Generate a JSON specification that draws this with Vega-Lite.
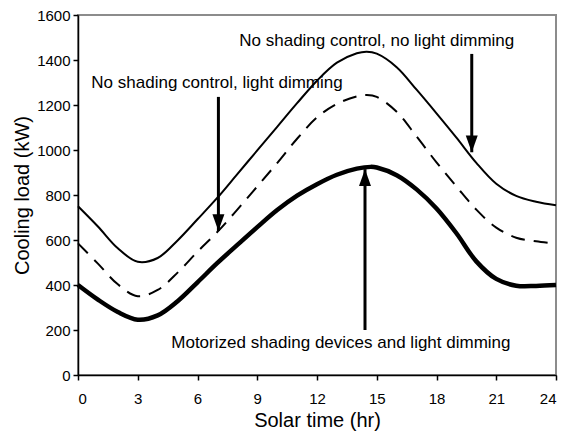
{
  "$schema": "https://vega.github.io/schema/vega-lite/v6.json",
  "width": 478,
  "height": 360,
  "autosize": "none",
  "padding": {"left": 78, "top": 15, "right": 13, "bottom": 59},
  "background": "white",
  "config": {
    "view": {"stroke": "#8c8c8c", "strokeWidth": 2},
    "font": "Liberation Sans",
    "axis": {
      "grid": false,
      "domainColor": "black",
      "domainWidth": 1.5,
      "tickColor": "black",
      "tickWidth": 1.5,
      "tickSize": 5,
      "labelFont": "Liberation Sans",
      "labelFontSize": 15,
      "labelColor": "black",
      "titleFont": "Liberation Sans",
      "titleFontSize": 20,
      "titleFontWeight": "normal",
      "titleColor": "black"
    }
  },
  "datasets": {
    "curves": [
      {"t": 0, "v": 750, "s": "No shading control, no light dimming"},
      {"t": 1, "v": 660, "s": "No shading control, no light dimming"},
      {"t": 2, "v": 563, "s": "No shading control, no light dimming"},
      {"t": 3, "v": 503, "s": "No shading control, no light dimming"},
      {"t": 4, "v": 520, "s": "No shading control, no light dimming"},
      {"t": 5, "v": 598, "s": "No shading control, no light dimming"},
      {"t": 6, "v": 692, "s": "No shading control, no light dimming"},
      {"t": 7, "v": 788, "s": "No shading control, no light dimming"},
      {"t": 8, "v": 893, "s": "No shading control, no light dimming"},
      {"t": 9, "v": 998, "s": "No shading control, no light dimming"},
      {"t": 10, "v": 1103, "s": "No shading control, no light dimming"},
      {"t": 11, "v": 1208, "s": "No shading control, no light dimming"},
      {"t": 12, "v": 1308, "s": "No shading control, no light dimming"},
      {"t": 13, "v": 1388, "s": "No shading control, no light dimming"},
      {"t": 14, "v": 1430, "s": "No shading control, no light dimming"},
      {"t": 14.5, "v": 1437, "s": "No shading control, no light dimming"},
      {"t": 15, "v": 1428, "s": "No shading control, no light dimming"},
      {"t": 16, "v": 1368, "s": "No shading control, no light dimming"},
      {"t": 17, "v": 1268, "s": "No shading control, no light dimming"},
      {"t": 18, "v": 1163, "s": "No shading control, no light dimming"},
      {"t": 19, "v": 1055, "s": "No shading control, no light dimming"},
      {"t": 20, "v": 943, "s": "No shading control, no light dimming"},
      {"t": 21, "v": 850, "s": "No shading control, no light dimming"},
      {"t": 22, "v": 796, "s": "No shading control, no light dimming"},
      {"t": 23, "v": 770, "s": "No shading control, no light dimming"},
      {"t": 24, "v": 754, "s": "No shading control, no light dimming"},
      {"t": 0, "v": 585, "s": "No shading control, light dimming"},
      {"t": 1, "v": 495, "s": "No shading control, light dimming"},
      {"t": 2, "v": 403, "s": "No shading control, light dimming"},
      {"t": 3, "v": 350, "s": "No shading control, light dimming"},
      {"t": 4, "v": 378, "s": "No shading control, light dimming"},
      {"t": 5, "v": 455, "s": "No shading control, light dimming"},
      {"t": 6, "v": 548, "s": "No shading control, light dimming"},
      {"t": 7, "v": 636, "s": "No shading control, light dimming"},
      {"t": 8, "v": 735, "s": "No shading control, light dimming"},
      {"t": 9, "v": 838, "s": "No shading control, light dimming"},
      {"t": 10, "v": 942, "s": "No shading control, light dimming"},
      {"t": 11, "v": 1050, "s": "No shading control, light dimming"},
      {"t": 12, "v": 1145, "s": "No shading control, light dimming"},
      {"t": 13, "v": 1205, "s": "No shading control, light dimming"},
      {"t": 14, "v": 1238, "s": "No shading control, light dimming"},
      {"t": 14.5, "v": 1244, "s": "No shading control, light dimming"},
      {"t": 15, "v": 1236, "s": "No shading control, light dimming"},
      {"t": 16, "v": 1170, "s": "No shading control, light dimming"},
      {"t": 17, "v": 1060, "s": "No shading control, light dimming"},
      {"t": 18, "v": 945, "s": "No shading control, light dimming"},
      {"t": 19, "v": 838, "s": "No shading control, light dimming"},
      {"t": 20, "v": 735, "s": "No shading control, light dimming"},
      {"t": 21, "v": 655, "s": "No shading control, light dimming"},
      {"t": 22, "v": 610, "s": "No shading control, light dimming"},
      {"t": 23, "v": 594, "s": "No shading control, light dimming"},
      {"t": 24, "v": 584, "s": "No shading control, light dimming"},
      {"t": 0, "v": 400, "s": "Motorized shading devices and light dimming"},
      {"t": 1, "v": 335, "s": "Motorized shading devices and light dimming"},
      {"t": 2, "v": 280, "s": "Motorized shading devices and light dimming"},
      {"t": 3, "v": 246, "s": "Motorized shading devices and light dimming"},
      {"t": 4, "v": 265, "s": "Motorized shading devices and light dimming"},
      {"t": 5, "v": 328, "s": "Motorized shading devices and light dimming"},
      {"t": 6, "v": 412, "s": "Motorized shading devices and light dimming"},
      {"t": 7, "v": 498, "s": "Motorized shading devices and light dimming"},
      {"t": 8, "v": 578, "s": "Motorized shading devices and light dimming"},
      {"t": 9, "v": 657, "s": "Motorized shading devices and light dimming"},
      {"t": 10, "v": 733, "s": "Motorized shading devices and light dimming"},
      {"t": 11, "v": 797, "s": "Motorized shading devices and light dimming"},
      {"t": 12, "v": 848, "s": "Motorized shading devices and light dimming"},
      {"t": 13, "v": 890, "s": "Motorized shading devices and light dimming"},
      {"t": 14, "v": 917, "s": "Motorized shading devices and light dimming"},
      {"t": 14.7, "v": 925, "s": "Motorized shading devices and light dimming"},
      {"t": 15, "v": 922, "s": "Motorized shading devices and light dimming"},
      {"t": 16, "v": 888, "s": "Motorized shading devices and light dimming"},
      {"t": 17, "v": 825, "s": "Motorized shading devices and light dimming"},
      {"t": 18, "v": 740, "s": "Motorized shading devices and light dimming"},
      {"t": 19, "v": 630, "s": "Motorized shading devices and light dimming"},
      {"t": 20, "v": 505, "s": "Motorized shading devices and light dimming"},
      {"t": 21, "v": 427, "s": "Motorized shading devices and light dimming"},
      {"t": 22, "v": 397, "s": "Motorized shading devices and light dimming"},
      {"t": 23, "v": 396, "s": "Motorized shading devices and light dimming"},
      {"t": 24, "v": 400, "s": "Motorized shading devices and light dimming"}
    ],
    "labels": [
      {"x": 15.0, "y": 1484, "label": "No shading control, no light dimming"},
      {"x": 6.98, "y": 1298, "label": "No shading control, light dimming"},
      {"x": 13.2, "y": 142, "label": "Motorized shading devices and light dimming"}
    ],
    "downArrows": [
      {"x": 19.77, "y": 1427, "y2": 990},
      {"x": 7.05, "y": 1236, "y2": 640}
    ],
    "upArrows": [
      {"x": 14.41, "y": 200, "y2": 915}
    ]
  },
  "encoding": {
    "x": {
      "field": "t", "type": "quantitative",
      "scale": {"domain": [0, 24], "nice": false},
      "axis": {"values": [0, 3, 6, 9, 12, 15, 18, 21, 24], "title": "Solar time (hr)", "labelPadding": 11, "titlePadding": 4}
    },
    "y": {
      "field": "v", "type": "quantitative",
      "scale": {"domain": [0, 1600], "nice": false},
      "axis": {"values": [0, 200, 400, 600, 800, 1000, 1200, 1400, 1600], "format": "d", "title": "Cooling load (kW)", "labelPadding": 3, "titlePadding": 4}
    }
  },
  "layer": [
    {
      "data": {"name": "curves"},
      "transform": [{"filter": "datum.s === 'No shading control, no light dimming'"}],
      "mark": {"type": "line", "color": "black", "strokeWidth": 2, "interpolate": "catmull-rom"}
    },
    {
      "data": {"name": "curves"},
      "transform": [{"filter": "datum.s === 'No shading control, light dimming'"}],
      "mark": {"type": "line", "color": "black", "strokeWidth": 2, "strokeDash": [14, 9], "interpolate": "catmull-rom"}
    },
    {
      "data": {"name": "curves"},
      "transform": [{"filter": "datum.s === 'Motorized shading devices and light dimming'"}],
      "mark": {"type": "line", "color": "black", "strokeWidth": 4.5, "interpolate": "catmull-rom"}
    },
    {
      "data": {"name": "downArrows"},
      "mark": {"type": "rule", "color": "black", "strokeWidth": 3},
      "encoding": {
        "x": {"field": "x", "type": "quantitative"},
        "y": {"field": "y", "type": "quantitative"},
        "y2": {"field": "y2"}
      }
    },
    {
      "data": {"name": "downArrows"},
      "mark": {"type": "point", "shape": "M-1,-2.8L1,-2.8L0,0Z", "size": 144, "filled": true, "color": "black", "opacity": 1},
      "encoding": {
        "x": {"field": "x", "type": "quantitative"},
        "y": {"field": "y2", "type": "quantitative"}
      }
    },
    {
      "data": {"name": "upArrows"},
      "mark": {"type": "rule", "color": "black", "strokeWidth": 3},
      "encoding": {
        "x": {"field": "x", "type": "quantitative"},
        "y": {"field": "y", "type": "quantitative"},
        "y2": {"field": "y2"}
      }
    },
    {
      "data": {"name": "upArrows"},
      "mark": {"type": "point", "shape": "M-1,2.8L1,2.8L0,0Z", "size": 144, "filled": true, "color": "black", "opacity": 1},
      "encoding": {
        "x": {"field": "x", "type": "quantitative"},
        "y": {"field": "y2", "type": "quantitative"}
      }
    },
    {
      "data": {"name": "labels"},
      "mark": {"type": "text", "font": "Liberation Sans", "fontSize": 17, "color": "black", "align": "center", "baseline": "middle"},
      "encoding": {
        "x": {"field": "x", "type": "quantitative"},
        "y": {"field": "y", "type": "quantitative"},
        "text": {"field": "label"}
      }
    }
  ]
}
